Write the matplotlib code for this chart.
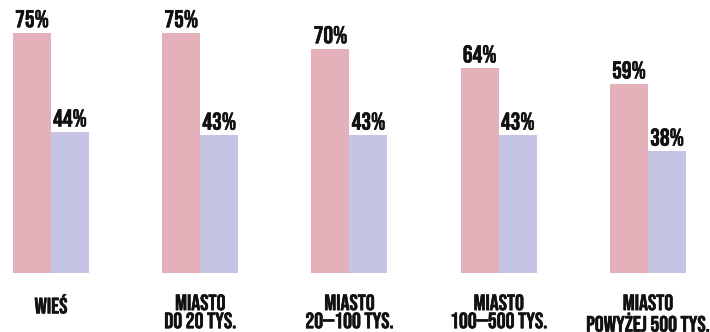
import matplotlib
matplotlib.use("Agg")
import matplotlib.pyplot as plt
import matplotlib.patheffects as pe
import numpy as np

categories = ["WIEŚ", "MIASTO\nDO 20 TYS.", "MIASTO\n20—100 TYS.",
              "MIASTO\n100—500 TYS.", "MIASTO\nPOWYŻEJ 500 TYS."]
series_a = [75, 75, 70, 64, 59]
series_b = [44, 43, 43, 43, 38]

pink = "#e4b0b9"
lav = "#c6c4e4"
ink = "#111111"

plt.rcParams['font.family'] = ['Bebas Neue', 'DejaVu Sans']
bold = [pe.withStroke(linewidth=0.4, foreground=ink)]

fig = plt.figure(figsize=(7.1, 3.32), dpi=100)
ax = fig.add_axes([0, 59/332, 1, 273/332])

step = 149.25  # px per group
x = np.arange(len(categories))
w = 38/step
ax.bar(x - w/2, series_a, width=w, color=pink)
ax.bar(x + w/2, series_b, width=w, color=lav)

for xi, a, b in zip(x, series_a, series_b):
    ax.text(xi - w/2, a + 1.8, f"{a}%", ha='center', va='baseline',
            fontsize=17.5, color=ink, path_effects=bold)
    ax.text(xi + w/2, b + 1.8, f"{b}%", ha='center', va='baseline',
            fontsize=17.5, color=ink, path_effects=bold)
    ax.text(xi, -6.6, categories[xi], ha='center', va='top',
            fontsize=16, color=ink, linespacing=1.13, path_effects=bold)

ax.set_xlim(-51/step, (710-51)/step)
ax.set_ylim(0, 273/3.2)
ax.axis('off')

fig.savefig("out.png", dpi=100)
